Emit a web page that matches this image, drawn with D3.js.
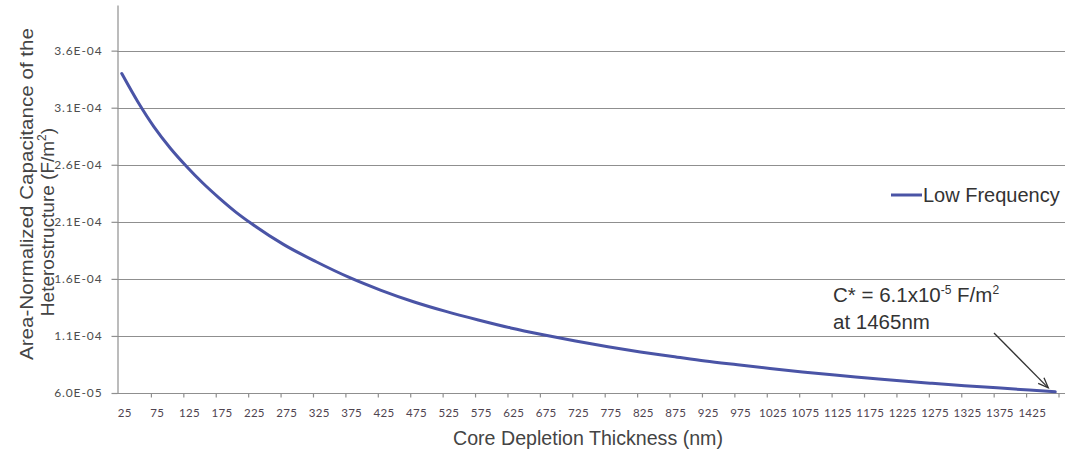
<!DOCTYPE html>
<html>
<head>
<meta charset="utf-8">
<script src="https://cdn.jsdelivr.net/npm/d3@7"></script>
<style>
  html, body { margin: 0; padding: 0; background: #ffffff; }
  svg { display: block; }
</style>
</head>
<body>
<svg id="chart" width="1071" height="453"></svg>
<script>
// Core depletion thickness (nm) and the low-frequency area-normalized capacitance (F/m^2)
const thicknessNm = [25, 50, 75, 100, 125, 150, 175, 200, 225, 275, 325, 375, 425, 475, 525, 575, 625, 675, 725,
  775, 825, 875, 925, 975, 1025, 1075, 1125, 1175, 1225, 1275, 1325, 1375, 1425, 1465];
const capacitance = [3.40e-4, 3.15e-4, 2.93e-4, 2.745e-4, 2.585e-4, 2.44e-4, 2.31e-4, 2.19e-4, 2.085e-4,
  1.90e-4, 1.75e-4, 1.615e-4, 1.50e-4, 1.40e-4, 1.315e-4, 1.24e-4, 1.17e-4, 1.11e-4, 1.055e-4,
  1.005e-4, 9.6e-5, 9.2e-5, 8.8e-5, 8.47e-5, 8.15e-5, 7.85e-5, 7.57e-5, 7.32e-5, 7.07e-5, 6.85e-5,
  6.64e-5, 6.45e-5, 6.26e-5, 6.1e-5];

// Axis ticks
const xTickLabels = [25, 75, 125, 175, 225, 275, 325, 375, 425, 475, 525, 575, 625, 675, 725,
  775, 825, 875, 925, 975, 1025, 1075, 1125, 1175, 1225, 1275, 1325, 1375, 1425];
const yTickValues = [6.0e-5, 1.1e-4, 1.6e-4, 2.1e-4, 2.6e-4, 3.1e-4, 3.6e-4];

const seriesName = "Low Frequency";
const markerThickness = 1465;
const markerValue = 6.1e-5;

const svg = d3.select("#chart");
const blue = "#4a54a6";
const gridColor = "#8f8f8f";

// plot frame
const plotLeft = 117, plotRight = 1065, plotTop = 5, plotBottom = 393;

// each sample occupies a 10 nm category slot; categories span 20..1470 nm
const x = d3.scaleLinear().domain([20, 1470]).range([118.5, 1058.5]);
const y = d3.scaleLinear().domain([6.0e-5, 4.0e-4]).range([plotBottom, plotTop]);

const fmtSci = v => {
  const [m, e] = v.toExponential(1).split("e");
  const n = +e;
  return m + "E" + (n < 0 ? "-" : "+") + String(Math.abs(n)).padStart(2, "0");
};

// horizontal gridlines
svg.append("g")
  .selectAll("line")
  .data(yTickValues.slice(1))
  .join("line")
  .attr("x1", plotLeft).attr("x2", plotRight)
  .attr("y1", d => Math.round(y(d)) + 0.5).attr("y2", d => Math.round(y(d)) + 0.5)
  .attr("stroke", gridColor).attr("stroke-width", 1.2);

// y axis
const yAxis = svg.append("g")
  .attr("transform", `translate(${plotLeft + 0.5},0)`)
  .call(d3.axisLeft(y).tickValues(yTickValues).tickFormat(fmtSci).tickSizeInner(6).tickSizeOuter(0).tickPadding(9));
yAxis.select(".domain").attr("stroke", gridColor).attr("stroke-width", 1.2);
yAxis.selectAll(".tick line").attr("stroke", gridColor).attr("stroke-width", 1.2);
yAxis.selectAll(".tick text")
  .attr("font-family", "Lato, 'Open Sans', sans-serif")
  .attr("font-size", 12)
  .attr("letter-spacing", "0.9px")
  .attr("fill", "#4d4d4d");

// x axis (category ticks at slot boundaries every five samples)
const xTickPositions = xTickLabels.map(d => d + 45);
const xAxis = svg.append("g")
  .attr("transform", `translate(0,${plotBottom + 0.5})`)
  .call(d3.axisBottom(x).tickValues(xTickPositions).tickFormat("").tickSizeInner(4).tickSizeOuter(0));
xAxis.select(".domain").attr("stroke", gridColor).attr("stroke-width", 1.2)
  .attr("d", `M${plotLeft},0H${plotRight}`);
xAxis.selectAll(".tick line").attr("stroke", gridColor).attr("stroke-width", 1.2);

svg.append("g")
  .selectAll("text")
  .data(xTickLabels)
  .join("text")
  .attr("x", d => x(d) + 3)
  .attr("y", 417)
  .attr("text-anchor", "middle")
  .attr("font-family", "Lato, 'Open Sans', sans-serif")
  .attr("font-size", 11.5)
  .attr("letter-spacing", "0.3px")
  .attr("fill", "#4f4450")
  .text(d => d);

// series line
const line = d3.line()
  .x((d, i) => x(thicknessNm[i]))
  .y(d => y(d))
  .curve(d3.curveMonotoneX);

svg.append("path")
  .datum(capacitance)
  .attr("d", line)
  .attr("fill", "none")
  .attr("stroke", blue)
  .attr("stroke-width", 3)
  .attr("stroke-linecap", "round")
  .attr("stroke-linejoin", "round");

// axis titles
const titleFont = "'Liberation Sans', Arial, sans-serif";
svg.append("text")
  .attr("transform", "translate(33,194) rotate(-90)")
  .attr("text-anchor", "middle")
  .attr("font-family", titleFont)
  .attr("font-size", 18)
  .attr("fill", "#444")
  .attr("textLength", 332)
  .attr("lengthAdjust", "spacingAndGlyphs")
  .text("Area-Normalized Capacitance of the");

const yt2 = svg.append("text")
  .attr("transform", "translate(54,222) rotate(-90)")
  .attr("text-anchor", "middle")
  .attr("font-family", titleFont)
  .attr("font-size", 19)
  .attr("fill", "#444");
yt2.append("tspan").text("Heterostructure (F/m");
yt2.append("tspan").attr("font-size", 12).attr("dy", -8).text("2");
yt2.append("tspan").attr("dy", 8).text(")");

svg.append("text")
  .attr("x", 588)
  .attr("y", 445)
  .attr("text-anchor", "middle")
  .attr("font-family", titleFont)
  .attr("font-size", 20)
  .attr("fill", "#444")
  .attr("textLength", 270)
  .attr("lengthAdjust", "spacingAndGlyphs")
  .text("Core Depletion Thickness (nm)");

// legend
svg.append("line")
  .attr("x1", 891).attr("x2", 922)
  .attr("y1", 195).attr("y2", 195)
  .attr("stroke", blue).attr("stroke-width", 3);
svg.append("text")
  .attr("x", 923).attr("y", 202)
  .attr("font-family", titleFont)
  .attr("font-size", 20)
  .attr("fill", "#333")
  .text(seriesName);

// annotation for the end point
const ann = svg.append("text")
  .attr("x", 833).attr("y", 302)
  .attr("font-family", titleFont)
  .attr("font-size", 20.5)
  .attr("fill", "#333");
ann.append("tspan").text("C* = 6.1x10");
ann.append("tspan").attr("font-size", 12).attr("dy", -8).text("-5");
ann.append("tspan").attr("dy", 8).text(" F/m");
ann.append("tspan").attr("font-size", 12).attr("dy", -8).text("2");

svg.append("text")
  .attr("x", 833).attr("y", 329)
  .attr("font-family", titleFont)
  .attr("font-size", 20.5)
  .attr("fill", "#333")
  .text(`at ${markerThickness}nm`);

// arrow pointing at the end point
const tipX = x(markerThickness) - 7, tipY = y(markerValue) - 4;
const startX = 994, startY = 333;
svg.append("line")
  .attr("x1", startX).attr("y1", startY)
  .attr("x2", tipX).attr("y2", tipY)
  .attr("stroke", "#333").attr("stroke-width", 1.3);
const ang = Math.atan2(tipY - startY, tipX - startX);
const headLen = 11, spread = 0.38;
svg.append("path")
  .attr("d", `M${tipX - headLen * Math.cos(ang - spread)},${tipY - headLen * Math.sin(ang - spread)}` +
             `L${tipX},${tipY}` +
             `L${tipX - headLen * Math.cos(ang + spread)},${tipY - headLen * Math.sin(ang + spread)}`)
  .attr("fill", "none")
  .attr("stroke", "#333")
  .attr("stroke-width", 1.3);
</script>
</body>
</html>
